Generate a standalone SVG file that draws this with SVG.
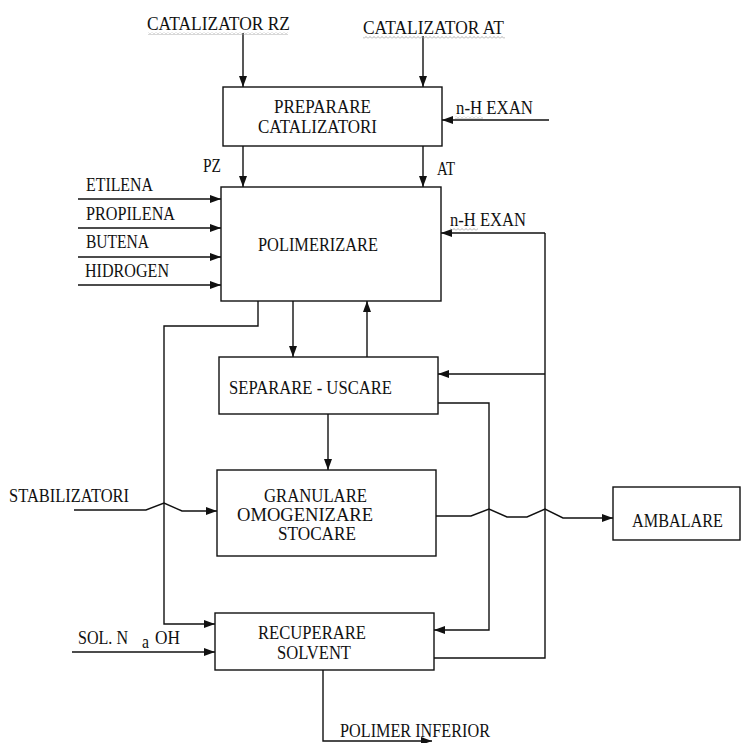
<svg xmlns="http://www.w3.org/2000/svg" width="750" height="743" viewBox="0 0 750 743">
<defs>
<marker id="ah" viewBox="0 0 11 8" refX="11" refY="4" markerWidth="11" markerHeight="8" orient="auto" markerUnits="userSpaceOnUse"><path d="M0,0 L11,4 L0,8 z" fill="#111"/></marker>
<pattern id="sq" x="0" y="0" width="4" height="3" patternUnits="userSpaceOnUse"><path d="M0,2.5 L2,0.5 L4,2.5" fill="none" stroke="#9a9a9a" stroke-width="0.8"/></pattern>
</defs>
<style>
.box{fill:#fff;stroke:#111;stroke-width:1.4}
.ln{fill:none;stroke:#111;stroke-width:1.4}
.ar{fill:none;stroke:#111;stroke-width:1.4;marker-end:url(#ah)}
text{font-family:"Liberation Serif","Times New Roman",serif;font-size:18px;fill:#111}
</style>
<rect width="750" height="743" fill="#fff"/>
<g id="connectors">
<path class="ar" d="M243,33 V87"/>
<path class="ar" d="M423,36 V87"/>
<path class="ar" d="M549,120 H442"/>
<path class="ar" d="M243,146 V187"/>
<path class="ar" d="M423,146 V187"/>
<path class="ar" d="M78,199 H221"/>
<path class="ar" d="M78,228 H221"/>
<path class="ar" d="M78,257 H221"/>
<path class="ar" d="M78,285 H221"/>
<path class="ln" d="M434,658 H545 V233"/>
<path class="ar" d="M545,233 H441"/>
<path class="ar" d="M545,374 H438"/>
<path class="ar" d="M258,301 V326 H164 V624 H215"/>
<path class="ar" d="M293,301 V357"/>
<path class="ar" d="M367,357 V301"/>
<path class="ar" d="M328,414 V470"/>
<path class="ar" d="M438,403 H489 V630 H434"/>
<path class="ar" d="M74,510 H146 L164,503 L182,511 H217"/>
<path class="ar" d="M436,516 H471 L489,509 L507,517 H527 L545,509 L563,518 H613"/>
<path class="ar" d="M72,652 H215"/>
<path class="ar" d="M323,670 V741 H432"/>
</g>
<g id="labels">
<text x="147" y="30" textLength="143" lengthAdjust="spacingAndGlyphs">CATALIZATOR RZ</text>
<rect x="148" y="32" width="140" height="3" fill="url(#sq)"/>
<text x="363" y="34" textLength="141" lengthAdjust="spacingAndGlyphs">CATALIZATOR AT</text>
<rect x="363" y="36" width="142" height="3" fill="url(#sq)"/>
<text x="456" y="114" textLength="77" lengthAdjust="spacingAndGlyphs">n-H EXAN</text>
<rect x="455" y="116" width="28" height="3" fill="url(#sq)"/>
<text x="203" y="172" textLength="18" lengthAdjust="spacingAndGlyphs">PZ</text>
<text x="437" y="175" textLength="18" lengthAdjust="spacingAndGlyphs">AT</text>
<text x="86" y="191" textLength="67" lengthAdjust="spacingAndGlyphs">ETILENA</text>
<text x="86" y="220" textLength="89" lengthAdjust="spacingAndGlyphs">PROPILENA</text>
<text x="86" y="248" textLength="63" lengthAdjust="spacingAndGlyphs">BUTENA</text>
<text x="85" y="277" textLength="84" lengthAdjust="spacingAndGlyphs">HIDROGEN</text>
<text x="450" y="226" textLength="76" lengthAdjust="spacingAndGlyphs">n-H EXAN</text>
<rect x="450" y="228" width="28" height="3" fill="url(#sq)"/>
<text x="9" y="502" textLength="120" lengthAdjust="spacingAndGlyphs">STABILIZATORI</text>
<text x="78" y="644" textLength="50" lengthAdjust="spacingAndGlyphs">SOL. N</text>
<text x="142" y="648" font-size="13" textLength="7" lengthAdjust="spacingAndGlyphs">a</text>
<text x="155" y="644" textLength="25" lengthAdjust="spacingAndGlyphs">OH</text>
<text x="340" y="737" textLength="150" lengthAdjust="spacingAndGlyphs">POLIMER INFERIOR</text>
</g>
<g id="preparare">
<rect class="box" x="223" y="87" width="219" height="59"/>
<text x="274" y="113" textLength="97" lengthAdjust="spacingAndGlyphs">PREPARARE</text>
<text x="258" y="133" textLength="119" lengthAdjust="spacingAndGlyphs">CATALIZATORI</text>
</g>
<g id="polimerizare">
<rect class="box" x="221" y="187" width="220" height="114"/>
<text x="258" y="251" textLength="120" lengthAdjust="spacingAndGlyphs">POLIMERIZARE</text>
</g>
<g id="separare">
<rect class="box" x="219" y="357" width="219" height="57"/>
<text x="229" y="394" textLength="163" lengthAdjust="spacingAndGlyphs">SEPARARE - USCARE</text>
</g>
<g id="granulare">
<rect class="box" x="217" y="470" width="219" height="86"/>
<text x="264" y="502" textLength="103" lengthAdjust="spacingAndGlyphs">GRANULARE</text>
<text x="237" y="521" textLength="136" lengthAdjust="spacingAndGlyphs">OMOGENIZARE</text>
<text x="278" y="540" textLength="78" lengthAdjust="spacingAndGlyphs">STOCARE</text>
</g>
<g id="ambalare">
<rect class="box" x="613" y="487" width="127" height="53"/>
<text x="632" y="527" textLength="91" lengthAdjust="spacingAndGlyphs">AMBALARE</text>
</g>
<g id="recuperare">
<rect class="box" x="215" y="613" width="219" height="57"/>
<text x="258" y="639" font-size="17" textLength="108" lengthAdjust="spacingAndGlyphs">RECUPERARE</text>
<text x="277" y="659" font-size="17" textLength="74" lengthAdjust="spacingAndGlyphs">SOLVENT</text>
</g>
</svg>
